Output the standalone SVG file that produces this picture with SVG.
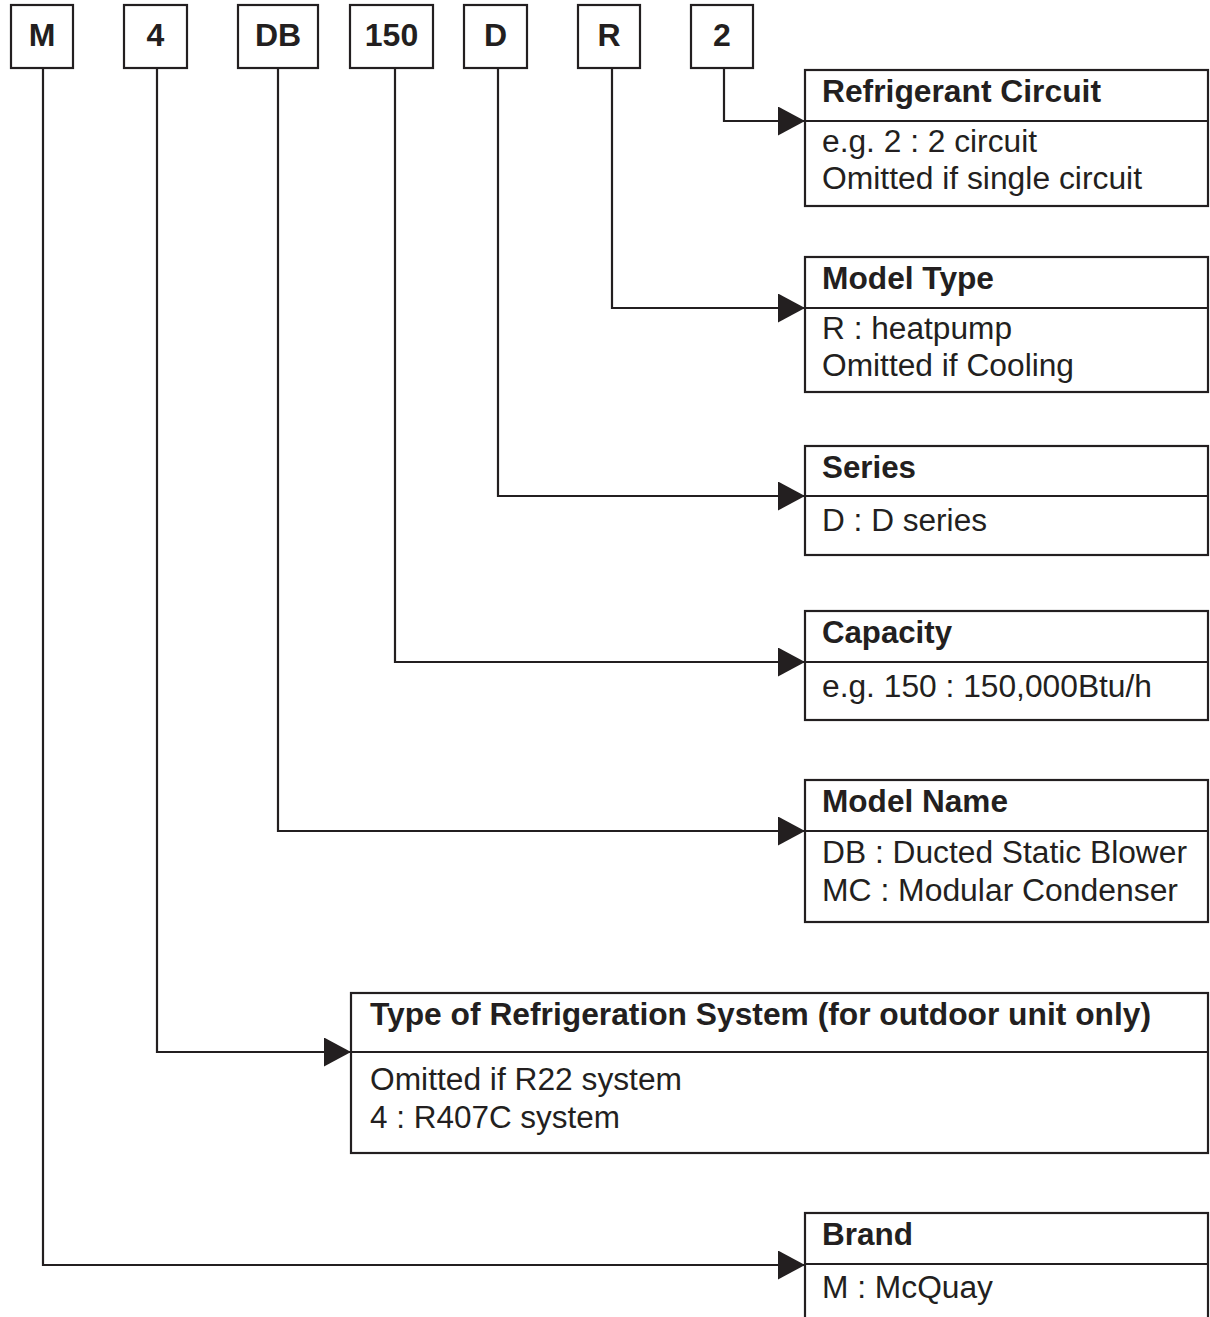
<svg xmlns="http://www.w3.org/2000/svg" width="1210" height="1317" viewBox="0 0 1210 1317">
<defs>
<style>
.box{fill:#fff;stroke:#231f20;stroke-width:2.2}
.ln{fill:none;stroke:#231f20;stroke-width:2.2}
.code{font-family:"Liberation Sans",Arial,sans-serif;font-weight:bold;font-size:32px;fill:#231f20;text-anchor:middle}
.hd{font-family:"Liberation Sans",Arial,sans-serif;font-weight:bold;font-size:31px;fill:#231f20}
.bd{font-family:"Liberation Sans",Arial,sans-serif;font-size:31px;fill:#231f20}
</style>
<marker id="arr" markerUnits="userSpaceOnUse" markerWidth="28" markerHeight="30" refX="27" refY="14.5" orient="auto" viewBox="0 0 28 30">
<path d="M0,0 L27,14.5 L0,29 Z" fill="#231f20"/>
</marker>
</defs>
<rect width="1210" height="1317" fill="#fff"/>

<g id="code-M"><rect class="box" x="11" y="5" width="62" height="63"/><text class="code" x="42" y="46">M</text></g>
<g id="code-4"><rect class="box" x="124" y="5" width="63" height="63"/><text class="code" x="155.5" y="46">4</text></g>
<g id="code-DB"><rect class="box" x="238" y="5" width="80" height="63"/><text class="code" x="278" y="46">DB</text></g>
<g id="code-150"><rect class="box" x="350" y="5" width="83" height="63"/><text class="code" x="391.5" y="46">150</text></g>
<g id="code-D"><rect class="box" x="464" y="5" width="63" height="63"/><text class="code" x="495.5" y="46">D</text></g>
<g id="code-R"><rect class="box" x="578" y="5" width="62" height="63"/><text class="code" x="609" y="46">R</text></g>
<g id="code-2"><rect class="box" x="691" y="5" width="62" height="63"/><text class="code" x="722" y="46">2</text></g>

<g id="connectors">
<path class="ln" d="M724,68 V121 H805" marker-end="url(#arr)"/>
<path class="ln" d="M612,68 V308 H805" marker-end="url(#arr)"/>
<path class="ln" d="M498,68 V496 H805" marker-end="url(#arr)"/>
<path class="ln" d="M395,68 V662 H805" marker-end="url(#arr)"/>
<path class="ln" d="M278,68 V831 H805" marker-end="url(#arr)"/>
<path class="ln" d="M157,68 V1052 H351" marker-end="url(#arr)"/>
<path class="ln" d="M43,68 V1265 H805" marker-end="url(#arr)"/>
</g>

<g id="refrigerant-circuit">
<rect class="box" x="805" y="70" width="403" height="136"/>
<line class="ln" x1="805" y1="121" x2="1208" y2="121"/>
<text class="hd" x="822" y="102" textLength="279" lengthAdjust="spacingAndGlyphs">Refrigerant Circuit</text>
<text class="bd" x="822" y="152" textLength="215" lengthAdjust="spacingAndGlyphs">e.g. 2 : 2 circuit</text>
<text class="bd" x="822" y="189" textLength="320" lengthAdjust="spacingAndGlyphs">Omitted if single circuit</text>
</g>

<g id="model-type">
<rect class="box" x="805" y="257" width="403" height="135"/>
<line class="ln" x1="805" y1="308" x2="1208" y2="308"/>
<text class="hd" x="822" y="289" textLength="172" lengthAdjust="spacingAndGlyphs">Model Type</text>
<text class="bd" x="822" y="339" textLength="190" lengthAdjust="spacingAndGlyphs">R : heatpump</text>
<text class="bd" x="822" y="376" textLength="252" lengthAdjust="spacingAndGlyphs">Omitted if Cooling</text>
</g>

<g id="series">
<rect class="box" x="805" y="446" width="403" height="109"/>
<line class="ln" x1="805" y1="496" x2="1208" y2="496"/>
<text class="hd" x="822" y="478" textLength="94" lengthAdjust="spacingAndGlyphs">Series</text>
<text class="bd" x="822" y="531" textLength="165" lengthAdjust="spacingAndGlyphs">D : D series</text>
</g>

<g id="capacity">
<rect class="box" x="805" y="611" width="403" height="109"/>
<line class="ln" x1="805" y1="662" x2="1208" y2="662"/>
<text class="hd" x="822" y="643" textLength="130" lengthAdjust="spacingAndGlyphs">Capacity</text>
<text class="bd" x="822" y="697" textLength="330" lengthAdjust="spacingAndGlyphs">e.g. 150 : 150,000Btu/h</text>
</g>

<g id="model-name">
<rect class="box" x="805" y="780" width="403" height="142"/>
<line class="ln" x1="805" y1="831" x2="1208" y2="831"/>
<text class="hd" x="822" y="812" textLength="186" lengthAdjust="spacingAndGlyphs">Model Name</text>
<text class="bd" x="822" y="863" textLength="365" lengthAdjust="spacingAndGlyphs">DB : Ducted Static Blower</text>
<text class="bd" x="822" y="901" textLength="356" lengthAdjust="spacingAndGlyphs">MC : Modular Condenser</text>
</g>

<g id="refrigeration-system">
<rect class="box" x="351" y="993" width="857" height="160"/>
<line class="ln" x1="351" y1="1052" x2="1208" y2="1052"/>
<text class="hd" x="370" y="1025" textLength="781" lengthAdjust="spacingAndGlyphs">Type of Refrigeration System (for outdoor unit only)</text>
<text class="bd" x="370" y="1090" textLength="312" lengthAdjust="spacingAndGlyphs">Omitted if R22 system</text>
<text class="bd" x="370" y="1128" textLength="250" lengthAdjust="spacingAndGlyphs">4 : R407C system</text>
</g>

<g id="brand">
<rect class="box" x="805" y="1213" width="403" height="130"/>
<line class="ln" x1="805" y1="1264" x2="1208" y2="1264"/>
<text class="hd" x="822" y="1245" textLength="91" lengthAdjust="spacingAndGlyphs">Brand</text>
<text class="bd" x="822" y="1298" textLength="171" lengthAdjust="spacingAndGlyphs">M : McQuay</text>
</g>
</svg>
